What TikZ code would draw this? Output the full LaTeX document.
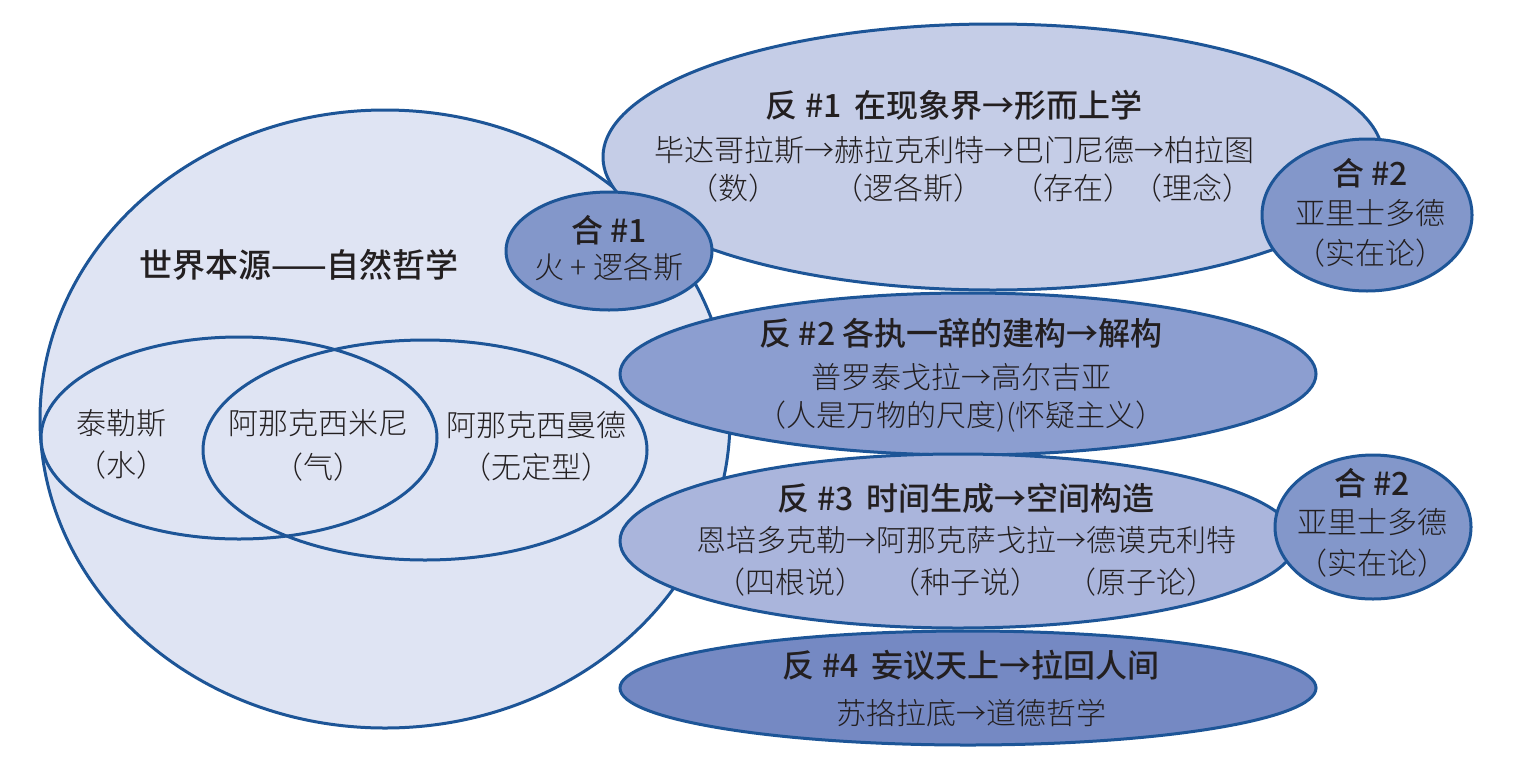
\documentclass[tikz,border=0pt]{standalone}
\usepackage{fontspec}
\setmainfont{Noto Sans CJK SC}[UprightFont={* Light}, BoldFont={* Medium}]
\usetikzlibrary{shapes.geometric}
\definecolor{edge}{HTML}{1D5597}
\definecolor{ink}{HTML}{231F20}
\definecolor{cbig}{HTML}{DFE4F3}
\definecolor{cf1}{HTML}{C5CDE7}
\definecolor{cf2}{HTML}{8C9ED0}
\definecolor{cf3}{HTML}{AAB5DC}
\definecolor{cf4}{HTML}{7589C3}
\definecolor{ch}{HTML}{8397CA}
\tikzset{
  blob/.style={ellipse, draw=edge, line width=1.5pt, inner sep=0pt},
  ttl/.style={font=\bfseries\fontsize{16}{18}\selectfont, text=ink, inner sep=0pt, anchor=center},
  txt/.style={font=\fontsize{15}{17}\selectfont, text=ink, inner sep=0pt, anchor=center},
}
\begin{document}
\begin{tikzpicture}[x=0.5pt,y=-0.5pt]
\useasboundingbox (0,0) rectangle (1513,766);
\fill[white] (0,0) rectangle (1513,766);
% shapes
\node[blob, fill=cbig, minimum width=345pt, minimum height=309pt] (big) at (385,419) {};
\node[blob, minimum width=198pt, minimum height=101pt] (vl) at (239,438) {};
\node[blob, minimum width=222pt, minimum height=110pt] (vr) at (425,450) {};
\node[blob, fill=cf1, minimum width=390pt, minimum height=133pt] (f1) at (993,157) {};
\node[blob, fill=ch, minimum width=103pt, minimum height=59pt] (h1) at (609,251) {};
\node[blob, fill=cf2, minimum width=348pt, minimum height=81pt] (f2) at (968,374) {};
\node[blob, fill=cf3, minimum width=338pt, minimum height=87pt] (f3) at (958,541) {};
\node[blob, fill=cf4, minimum width=348pt, minimum height=57pt] (f4) at (968,688) {};
\node[blob, fill=ch, minimum width=105pt, minimum height=76pt] (h2a) at (1367,215) {};
\node[blob, fill=ch, minimum width=98pt, minimum height=72pt] (h2b) at (1373,527) {};
% texts: big
\node[ttl, font=\bfseries\fontsize{16.5}{18}\selectfont] (tbig) at (299,265) {世界本源——自然哲学};
\node[txt] (tthales) at (121,423) {泰勒斯};
\node[txt] (tthales2) at (121,465) {（水）};
\node[txt] (tmeni) at (318,423) {阿那克西米尼};
\node[txt] (tmeni2) at (318,467) {（气）};
\node[txt] (tmand) at (536,425) {阿那克西曼德};
\node[txt] (tmand2) at (536,467) {（无定型）};
% he 1
\node[ttl] (th1) at (609,230) {合 \#1};
\node[txt] (th1b) at (609,267) {火 + 逻各斯};
% fan 1
\node[ttl] (tf1) at (954,105) {反 \#1\,\ 在现象界→形而上学};
\node[txt] (tf1b) at (954,150) {毕达哥拉斯→赫拉克利特→巴门尼德→柏拉图};
\node[txt] (tf1c) at (733,188) {（数）};
\node[txt] (tf1d) at (908,188) {（逻各斯）};
\node[txt] (tf1e) at (1073,188) {（存在）};
\node[txt] (tf1f) at (1192,188) {（理念）};
% he 2 upper
\node[ttl] (th2a) at (1370,173) {合 \#2};
\node[txt] (th2ab) at (1370,213) {亚里士多德};
\node[txt] (th2ac) at (1370,253) {（实在论）};
% fan 2
\node[ttl] (tf2) at (961,333) {反 \#2 各执一辞的建构→解构};
\node[txt] (tf2b) at (961,377) {普罗泰戈拉→高尔吉亚};
\node[txt] (tf2c) at (961,417) {（人是万物的尺度)(怀疑主义）};
% fan 3
\node[ttl] (tf3) at (966,498) {反 \#3\,\ 时间生成→空间构造};
\node[txt] (tf3b) at (966,540) {恩培多克勒→阿那克萨戈拉→德谟克利特};
\node[txt] (tf3c) at (790,582) {（四根说）};
\node[txt] (tf3d) at (965,582) {（种子说）};
\node[txt] (tf3e) at (1141,582) {（原子论）};
% he 2 lower
\node[ttl] (th2b) at (1372,483) {合 \#2};
\node[txt] (th2bb) at (1372,522) {亚里士多德};
\node[txt] (th2bc) at (1372,563) {（实在论）};
% fan 4
\node[ttl] (tf4) at (971,665) {反 \#4\,\ 妄议天上→拉回人间};
\node[txt] (tf4b) at (971,713) {苏挌拉底→道德哲学};
\end{tikzpicture}
\end{document}
